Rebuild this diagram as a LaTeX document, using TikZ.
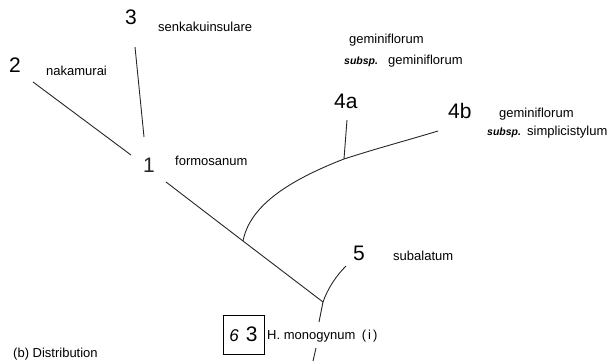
\documentclass[tikz,border=0pt]{standalone}
\usepackage{fontspec}
\setmainfont{Liberation Sans}
\tikzset{
  num/.style={font=\fontsize{21}{21}\selectfont, inner sep=0pt, anchor=base west},
  lab/.style={font=\fontsize{13}{13}\selectfont, inner sep=0pt, anchor=base west},
  subsp/.style={font=\fontsize{10.5}{10.5}\selectfont\bfseries\itshape, inner sep=0pt, anchor=base west},
  branch/.style={line width=0.9pt, black!85},
}
\begin{document}
\begin{tikzpicture}[x=1pt, y=-1pt]
  \useasboundingbox (0,0) rectangle (607,361);

  % taxon numbers
  \node[num, black!85] (n1) at ({143}, 172) {1};
  \node[num] (n2) at ({9}, 72) {2};
  \node[num] (n3) at ({125}, 25) {3};
  \node[num] (n4a) at ({334}, 108) {4a};
  \node[num] (n4b) at ({448}, 118) {4b};
  \node[num] (n5) at ({353}, 260) {5};

  % names
  \node[lab] (l1) at ({175}, 165) {formosanum};
  \node[lab] (l2) at ({46}, 75) {nakamurai};
  \node[lab] (l3) at ({158}, 32) {senkakuinsulare};
  \node[lab] (l4a) at ({349}, 44) {geminiflorum};
  \node[subsp] (s4a) at ({344}, 64) {subsp.};
  \node[lab] (l4aa) at ({388}, 64) {geminiflorum};
  \node[lab] (l4b) at ({499}, 117) {geminiflorum};
  \node[subsp] (s4b) at ({487}, 135) {subsp.};
  \node[lab] (l4bb) at ({527}, 135) {simplicistylum};
  \node[lab] (l5) at ({393}, 260) {subalatum};

  % the root with its page mark
  \node[draw, line width=0.9pt, minimum width=41pt, minimum height=39pt, inner sep=0pt]
    (mark) at ({243.5}, 334.5)
    {{\fontsize{17}{17}\selectfont\itshape 6}\hspace{7pt}{\fontsize{21}{21}\selectfont 3}\hspace{6pt}};
  \node[lab] (root) at ({267}, 339) {H. monogynum\hspace{6.5pt}(\hspace{2pt}i\hspace{2pt})};
  \node[lab] (dist) at ({13}, 357.5) {(b) Distribution};

  % branch ends and joints
  \coordinate (t2) at (33,82);
  \coordinate (e2) at (131,155);
  \coordinate (t3) at (135,47);
  \coordinate (e3) at (144,137);
  \coordinate (e1) at (166,182);
  \coordinate (j4) at (243,241);
  \coordinate (j4ab) at (344,159);
  \coordinate (t4a) at (347,120);
  \coordinate (t4b) at (438,131);
  \coordinate (t5) at (346,266);
  \coordinate (j5) at (323,302);
  \coordinate (e0) at (319,322);
  \coordinate (s0) at (316,348);
  \coordinate (bot) at (313,361);

  \draw[branch] (t2) -- (e2);
  \draw[branch] (t3) -- (e3);
  \draw[branch] (e1) -- (j4) -- (j5);
  \draw[branch] (j4) .. controls (250,205) and (290,180) .. (j4ab);
  \draw[branch] (j4ab) .. controls (378,148) and (405,141) .. (t4b);
  \draw[branch] (j4ab) -- (t4a);
  \draw[branch] (t5) .. controls (336,276) and (328,288) .. (j5);
  \draw[branch] (j5) -- (e0);
  \draw[branch] (s0) -- (bot);

\end{tikzpicture}
\end{document}
